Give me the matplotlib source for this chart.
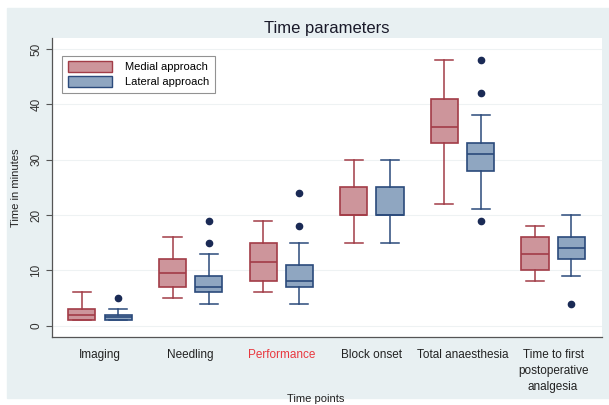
import matplotlib.pyplot as plt
from matplotlib.patches import Rectangle, Patch

plt.rcParams['font.family'] = ['Liberation Sans', 'DejaVu Sans']

# Data (minutes)
categories = ['Imaging', 'Needling', 'Performance', 'Block onset',
              'Total anaesthesia', 'Time to first\npostoperative\nanalgesia']

medial_lo = [1, 5, 6, 15, 22, 8]
medial_q1 = [1, 7, 8, 20, 33, 10]
medial_med = [2, 9.5, 11.5, 20, 36, 13]
medial_q3 = [3, 12, 15, 25, 41, 16]
medial_hi = [6, 16, 19, 30, 48, 18]
medial_out = [[], [], [], [], [], []]

lateral_lo = [1, 4, 4, 15, 21, 9]
lateral_q1 = [1, 6, 7, 20, 28, 12]
lateral_med = [1.5, 7, 8, 20, 31, 14]
lateral_q3 = [2, 9, 11, 25, 33, 16]
lateral_hi = [3, 13, 15, 30, 38, 20]
lateral_out = [[5], [15, 19], [18, 24], [], [19, 42, 48], [4]]

med_face, med_edge = '#cd959b', '#a23c47'
lat_face, lat_edge = '#8fa6c1', '#2b4a7b'
dot_col = '#1a2a55'
bg = '#e8f0f2'


def stats(lo, q1, med, q3, hi, out):
    return [dict(whislo=a, q1=b, med=c, q3=d, whishi=e, fliers=f)
            for a, b, c, d, e, f in zip(lo, q1, med, q3, hi, out)]


fig = plt.figure(figsize=(6.09, 4.05), dpi=100, facecolor='white')
fig.patches.append(Rectangle((7 / 609, 7 / 405), 602 / 609, 390 / 405,
                             transform=fig.transFigure, color=bg, zorder=-5))
ax = fig.add_axes([52 / 609, (405 - 336.7) / 405, 550 / 609, 298.7 / 405])
ax.set_zorder(2)
ax.set_facecolor('white')

pos = list(range(len(categories)))
for st, off, fc, ec in [(stats(medial_lo, medial_q1, medial_med, medial_q3, medial_hi, medial_out), -0.2, med_face, med_edge),
                        (stats(lateral_lo, lateral_q1, lateral_med, lateral_q3, lateral_hi, lateral_out), 0.2, lat_face, lat_edge)]:
    ax.bxp(st, positions=[p + off for p in pos], widths=0.3, patch_artist=True,
           boxprops=dict(facecolor=fc, edgecolor=ec, linewidth=1.2),
           medianprops=dict(color=ec, linewidth=1.2),
           whiskerprops=dict(color=ec, linewidth=1.1),
           capprops=dict(color=ec, linewidth=1.1), capwidths=0.2,
           flierprops=dict(marker='o', markerfacecolor=dot_col, markeredgecolor=dot_col, markersize=4.5),
           manage_ticks=False)

ax.set_xlim(-0.53, 5.54)
ax.set_ylim(-2, 52)
ax.set_yticks([0, 10, 20, 30, 40, 50])
ax.set_yticklabels(['0', '10', '20', '30', '40', '50'], rotation=90, va='center', fontsize=8.5, color='#333333')
ax.grid(axis='y', color='#eef2f3', linewidth=0.8)
ax.set_axisbelow(True)
ax.set_xticks(pos)
ax.set_xticklabels(categories, fontsize=8.5, color='#222222', linespacing=1.45, va='top')
ax.get_xticklabels()[2].set_color('#e8383f')
ax.tick_params(axis='x', length=0, pad=9)
ax.tick_params(axis='y', length=4, color='#555555', pad=3)
for s in ['top', 'right']:
    ax.spines[s].set_visible(False)
for s in ['left', 'bottom']:
    ax.spines[s].set_color('#555555')
    ax.spines[s].set_linewidth(0.9)

ax.set_ylabel('Time in minutes', fontsize=8, color='#222222', labelpad=7)
fig.text(316 / 609, 1 - 399 / 405, 'Time points', ha='center', va='center', fontsize=8, color='#222222')
fig.text(327 / 609, 1 - 29 / 405, 'Time parameters', ha='center', va='center', fontsize=12, color='#1a1a2a')

handles = [Patch(facecolor=med_face, edgecolor=med_edge, label='Medial approach'),
           Patch(facecolor=lat_face, edgecolor=lat_edge, label='Lateral approach')]
leg = ax.legend(handles=handles, loc='upper left', bbox_to_anchor=(0.008, 0.96), fontsize=8,
                frameon=True, fancybox=False, edgecolor='#777777', handlelength=4.0, handleheight=1.1,
                borderpad=0.5, labelspacing=0.35, handletextpad=1.2)
leg.get_frame().set_linewidth(0.8)

fig.savefig('out.png', dpi=100, facecolor=fig.get_facecolor())
